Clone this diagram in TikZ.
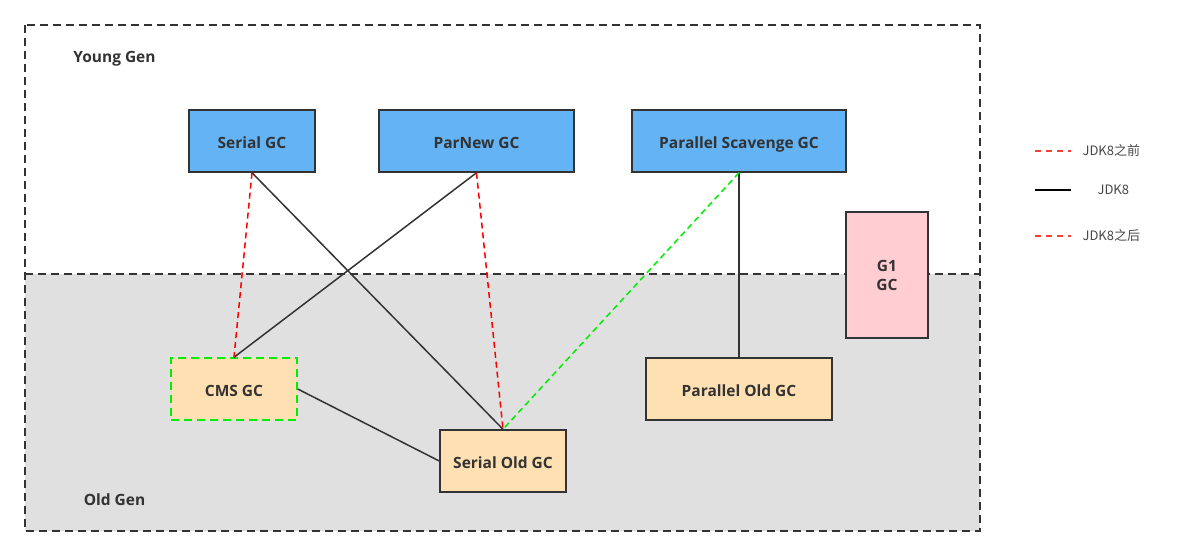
\documentclass[tikz,border=0pt]{standalone}
\usepackage{fontspec}
\setmainfont{Open Sans}
\newfontfamily\cjk{Noto Sans CJK SC}
\definecolor{gcblue}{HTML}{63B3F5}
\definecolor{gcorange}{HTML}{FFE0B2}
\definecolor{gcpink}{HTML}{FFCDD2}
\definecolor{gcgray}{HTML}{E0E0E0}
\definecolor{gcdark}{HTML}{333333}
\definecolor{gcred}{HTML}{FF0000}
\definecolor{gcgreen}{HTML}{00EE00}
\definecolor{legred}{HTML}{F44336}
\begin{document}
\begin{tikzpicture}[x=1pt,y=-1pt,
  gcbox/.style={draw=gcdark,line width=1.5pt,minimum height=62pt,inner sep=0pt,
    font=\fontsize{15.5}{19}\selectfont\bfseries,text=gcdark},
  boxtext/.style={text height=14pt,text depth=0pt},
  regionline/.style={draw=gcdark,line width=1.5pt,dash pattern=on 8pt off 5pt},
  blackconn/.style={draw=gcdark,line width=1.5pt},
  redconn/.style={draw=gcred,line width=1.5pt,dash pattern=on 6pt off 4pt},
  greenconn/.style={draw=gcgreen,line width=1.5pt,dash pattern=on 6pt off 4pt},
  regionlabel/.style={font=\fontsize{15.5}{19}\selectfont\bfseries,text=gcdark},
  legtext/.style={font=\cjk\fontsize{13}{16}\selectfont,text=gcdark!90,anchor=west}
]
\useasboundingbox (0,0) rectangle (1183,557);
% regions
\fill[gcgray] (25,274) rectangle (980,531);
\draw[regionline] (25,25) rectangle (980,531);
\draw[regionline] (25,274) -- (980,274);
\node[regionlabel] (young) at (114.5,59) {Young Gen};
\node[regionlabel] (old) at (114.5,500) {Old Gen};
% boxes
\node[gcbox,boxtext,fill=gcblue,minimum width=126pt] (serial) at (252,141) {Serial GC};
\node[gcbox,boxtext,fill=gcblue,minimum width=195pt] (parnew) at (476.5,141) {ParNew GC};
\node[gcbox,boxtext,fill=gcblue,minimum width=214pt] (ps) at (739,141) {Parallel Scavenge GC};
\node[gcbox,fill=gcpink,minimum width=82pt,minimum height=126pt,align=center] (g1) at (887,275) {G1\\GC};
\node[gcbox,boxtext,fill=gcorange,draw=gcgreen,dash pattern=on 8pt off 5pt,minimum width=126pt] (cms) at (234,389) {CMS GC};
\node[gcbox,boxtext,fill=gcorange,minimum width=186pt] (pold) at (739,389) {Parallel Old GC};
\node[gcbox,boxtext,fill=gcorange,minimum width=126pt] (sold) at (503,461) {Serial Old GC};
% connectors
\draw[blackconn] (serial.south) -- (sold.north);
\draw[blackconn] (parnew.south) -- (cms.north);
\draw[blackconn] (ps.south) -- (pold.north);
\draw[blackconn] (cms.east) -- (sold.west);
\draw[redconn] (serial.south) -- (cms.north);
\draw[redconn] (parnew.south) -- (sold.north);
\draw[greenconn] (ps.south) -- (sold.north);
% legend
\coordinate (l1a) at (1035,151); \coordinate (l1b) at (1071,151);
\coordinate (l2a) at (1035,190); \coordinate (l2b) at (1071,190);
\coordinate (l3a) at (1035,236); \coordinate (l3b) at (1071,236);
\draw[draw=legred,line width=1.5pt,dash pattern=on 6pt off 5pt] (l1a) -- (l1b);
\draw[draw=black,line width=2pt] (l2a) -- (l2b);
\draw[draw=legred,line width=1.5pt,dash pattern=on 6pt off 5pt] (l3a) -- (l3b);
\node[legtext] (t1) at (1079,151) {JDK8之前};
\node[legtext] (t2) at (1094,190) {JDK8};
\node[legtext] (t3) at (1079,236) {JDK8之后};
\end{tikzpicture}
\end{document}
